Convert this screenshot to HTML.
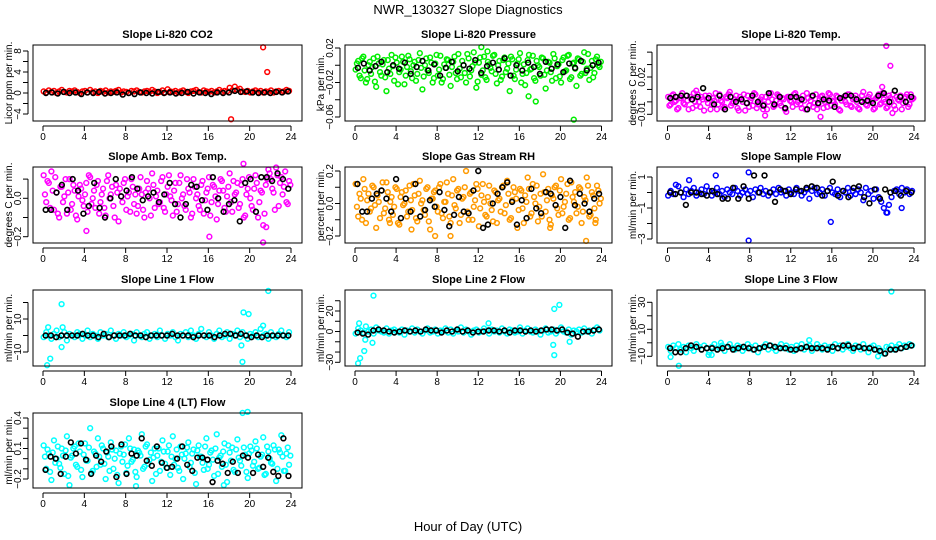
<!DOCTYPE html>
<html><head><meta charset="utf-8"><style>
body{margin:0;background:#fff;}
svg{display:block;font-family:"Liberation Sans",sans-serif;}
</style></head><body>
<svg id="chart" width="936" height="540" viewBox="0 0 936 540" xmlns="http://www.w3.org/2000/svg">
<rect x="0" y="0" width="936" height="540" fill="#fff"/>
<text x="468" y="14" font-size="13" text-anchor="middle">NWR_130327  Slope Diagnostics</text>
<text x="468" y="531" font-size="13" text-anchor="middle">Hour of Day (UTC)</text>
</svg>
<script>
// ---- data (y values; hours spread evenly over 0-24) ----
const co2Col=[0.3,0.1,0.5,0.2,0.4,0,0.3,0.6,0.2,0.1,0.4,0.3,0.5,0.2,0,0.3,0.4,0.1,0.6,0.2,0.3,0,0.4,0.2,0.5,0.1,0.3,0.2,0.4,0.6,0.1,0.3,0.2,0,0.4,0.3,0.5,0.2,0.1,0.3,0.4,0.2,0.6,0.3,0,0.2,0.5,0.1,0.7,0.3,0.2,0.4,0.1,0.3,0.5,0.2,0,0.3,0.4,0.6,0.2,0.1,0.5,0.3,0.2,0.4,0.1,0.3,0.6,0.2,0.4,0.3,1.0,0.5,1.2,0.6,0.8,0.3,0.2,0.4,0.1,0.3,0.5,0.2,0.4,0.1,0.3,0.2,0.5,0.1,0.3,0.4,0.2,0.3,0.6,0.4];
const co2Blk=[0,0.1,-0.1,0.2,0,0.1,-0.2,0.1,0,0.2,-0.1,0,0.1,-0.3,0,-0.2,0.1,0,-0.1,0.2,0,0.1,-0.1,0,0.2,-0.1,0.1,0,-0.2,0.1,0,0.1,0.4,0.2,0.3,0.1,0,0.1,0,0.2,0.1,0.3];
const co2OutH=[21.3,21.7,18.2];
const co2OutV=[8.7,4.0,-5.0];
const preCol=[-0.005,0.005,-0.015,0.01,-0.02,0,-0.01,0.008,-0.025,0.002,-0.012,0.006,-0.03,-0.004,0.012,-0.018,0.003,-0.008,0.01,-0.022,-0.002,0.007,-0.015,0.004,-0.01,0.014,-0.028,0,-0.006,0.009,-0.02,0.002,-0.012,0.011,-0.016,-0.003,0.006,-0.024,0.004,-0.009,0.013,-0.014,0,-0.02,0.008,-0.006,0.015,-0.026,0.003,-0.011,0.01,-0.017,0.001,-0.007,0.012,-0.021,0.005,-0.013,0.009,-0.004,-0.03,0.007,-0.016,0.002,0.014,-0.01,-0.023,0.006,-0.005,0.011,-0.018,0,-0.012,0.008,-0.027,0.004,-0.008,0.013,-0.015,0.001,-0.02,0.009,-0.006,0.012,-0.014,0.003,-0.024,0.007,-0.01,0.015,-0.004,-0.017,0.005,-0.009,0.01,-0.002];
const preCol2=[0.002,-0.012,0.008,-0.006,-0.016,0.004,-0.002,-0.019,0.01,-0.008,0.001,-0.014,0.006,-0.01,-0.001,0.009,-0.022,-0.005,0.004,-0.012,0.011,-0.007,0,-0.018,0.006,-0.003,-0.013,0.008,-0.009,0.003,-0.015,0.012,-0.005,-0.02,0.001,0.007,-0.011,-0.002,0.01,-0.016,-0.004,0.005,-0.009,0.013,-0.013,-0.001,0.003,-0.019,0.009,-0.006,-0.014,0.004,-0.003,0.011,-0.01,0,-0.017,0.006,-0.008,0.002,0.01,-0.012,-0.005,0.007,-0.02,0.001,-0.009,0.012,-0.004,-0.015,0.005,-0.002,0.009,-0.011,-0.006,0.003,-0.018,0.008,-0.001,-0.013,0.006,-0.007,0.011,-0.016,0.002,-0.004,0.008,-0.012,0.004,-0.009,0.013,-0.003,-0.014,0.007,0,0.004];
const preBlk=[-0.003,0.002,-0.006,-0.001,0.004,-0.008,0,-0.004,0.003,-0.01,-0.002,0.005,-0.006,0.001,-0.012,-0.003,0.004,-0.007,0,-0.004,0.006,-0.009,-0.001,0.003,-0.005,0.008,-0.012,0,-0.006,0.003,-0.002,-0.01,0.004,-0.004,0.001,-0.008,0.002,-0.003,0.005,-0.006,0,0.003];
const preOutH=[12.3,21.3,17.6,16.9,12.9];
const preOutV=[0.021,-0.063,-0.042,-0.036,0.016];
const tmpCol=[0.004,-0.002,0.006,0.001,-0.005,0.003,-0.001,0.005,-0.006,0.002,0.007,-0.003,0,0.004,-0.007,0.002,0.005,-0.002,0.001,-0.006,0.006,0,-0.004,0.003,0.008,-0.001,0.002,-0.005,0.004,0,-0.007,0.005,0.001,-0.003,0.006,-0.002,0.002,-0.006,0.004,0,0.007,-0.004,0.001,0.005,-0.003,0.002,-0.008,0.004,0,0.006,-0.002,0.003,-0.005,0.001,0.007,-0.003,0.004,-0.001,-0.006,0.002,0.005,0,-0.004,0.006,0.001,-0.002,0.004,-0.007,0.003,0,0.006,-0.003,0.002,0.005,-0.005,0.001,0.008,-0.002,0.004,0,-0.006,0.003,0.006,-0.001,0.002,-0.005,0.005,0,-0.003,0.004,0.001,-0.006,0.003,0.006,-0.002,0.002];
const tmpCol2=[-0.003,0.005,0,-0.006,0.003,0.007,-0.002,0.001,0.004,-0.005,0,0.006,-0.004,0.002,0.005,-0.001,-0.006,0.003,0.007,-0.002,0.001,-0.005,0.004,0.006,-0.003,0,0.005,-0.007,0.002,0.006,-0.001,-0.004,0.003,0.007,-0.005,0.001,0.004,-0.002,-0.006,0.005,0.002,-0.003,0.006,-0.001,0.003,-0.006,0.004,0.001,-0.004,0.007,0,-0.002,0.005,-0.006,0.003,0.001,-0.004,0.006,-0.002,0.004,-0.005,0.002,0.007,-0.003,0,0.005,-0.006,0.001,0.004,-0.002,0.006,-0.004,0.003,0,-0.006,0.005,0.002,-0.003,0.006,0.001,-0.005,0.004,-0.002,0.007,0,-0.004,0.003,0.006,-0.006,0.002,0.005,-0.001,0.004,-0.004,0.006,0.003];
const tmpBlk=[0.003,0.004,0.005,0.005,0.002,0.004,0.011,0.003,-0.002,0.005,-0.006,0.004,0,0.002,-0.001,0.005,0,-0.003,0.007,-0.002,0.004,-0.005,0.004,0.004,0.002,-0.006,0.005,-0.001,0.002,0.001,-0.004,0.003,0.005,0.005,0.002,0,0.001,-0.001,0.005,0.007,0,0.009,0.004,0,0.004];
const tmpOutH=[21.3,21.7,20.9,21.9,14.9,9.5,2.8,20.8];
const tmpOutV=[0.045,0.029,0.012,-0.009,-0.012,-0.011,0.009,0.006];
const ambCol=[0.12,-0.02,0.08,0.14,-0.06,0.03,-0.1,0.06,0.01,-0.08,0.1,-0.03,0.04,-0.11,0.07,-0.01,0.02,-0.07,0.11,0,-0.05,0.09,-0.02,0.05,-0.09,0.12,0.02,-0.04,0.07,-0.12,0.01,0.08,-0.06,0.03,0.1,-0.03,-0.08,0.05,0.02,-0.1,0.09,0,0.13,-0.05,0.04,-0.02,0.11,-0.07,0.06,0.01,-0.09,0.08,-0.03,0.12,0.02,-0.06,0.05,-0.1,0.1,0,-0.04,0.07,-0.08,0.03,0.11,-0.02,0.06,-0.11,0.04,0.09,-0.05,0.01,0.13,-0.07,0.02,0.08,-0.03,0.1,-0.09,0.05,0,-0.06,0.12,-0.1,0.04,-0.14,0.07,0.15,0.1,0.03,0.16,-0.04,0.11,0.06,-0.02,0.09];
const ambCol2=[0.02,0.09,-0.05,0.04,0.11,-0.08,0.06,-0.02,0.1,0.03,-0.06,0.07,-0.09,0.01,0.05,-0.04,0.08,0.12,-0.03,0.04,0.07,-0.08,0.02,-0.05,0.09,0,0.06,-0.1,0.03,0.05,-0.02,0.1,0.01,-0.07,0.06,0.02,-0.04,0.11,-0.06,0.03,0.05,-0.09,0.07,0.01,-0.03,0.09,-0.05,0.02,0.12,-0.01,0.04,-0.07,0.08,0,-0.04,0.1,0.03,-0.08,0.06,0.02,-0.06,0.09,-0.01,0.05,-0.09,0.07,0.01,-0.03,0.1,0.04,-0.07,0.06,-0.02,0.09,0.03,-0.05,0.07,-0.1,0.02,0.11,-0.04,0.05,0.08,-0.02,0.03,-0.08,0.1,0.13,0.05,-0.06,0.12,0.08,0.02,0.14,-0.03,0.07];
const ambBlk=[-0.06,-0.06,0.03,0.07,-0.06,0.1,0.04,-0.08,-0.04,0.08,-0.05,-0.1,0,0.1,0.01,0.04,0.11,0.05,-0.01,0.01,0.03,-0.02,0.02,0.08,-0.03,-0.1,-0.03,0.07,0.06,-0.01,-0.06,0.11,0,-0.07,-0.03,-0.01,-0.12,0.08,0.1,-0.07,0.11,0.11,0.09,0.13,0.1,0.05];
const ambOutH=[21.3,4.2,16.1,21.6,19.4];
const ambOutV=[-0.23,-0.17,-0.2,-0.15,0.18];
const rhCol=[0.12,-0.08,0.03,0.15,-0.12,0.06,-0.03,0.1,-0.15,0.01,0.08,-0.06,0.13,-0.1,0.04,-0.02,0.09,-0.13,0.07,0,-0.08,0.11,-0.04,0.05,-0.11,0.14,0.02,-0.07,0.1,-0.16,0.03,0.08,-0.05,0.12,-0.09,0.01,0.06,-0.12,0.15,-0.03,0.09,-0.07,0.04,0.2,-0.1,0.07,-0.02,0.12,-0.14,0.05,0.01,-0.08,0.11,-0.04,0.08,-0.12,0.03,0.1,-0.06,0.14,-0.1,0.02,0.07,-0.15,0.09,-0.03,0.05,0.16,-0.08,0.12,0,-0.11,0.06,0.18,-0.05,0.09,-0.13,0.03,0.11,-0.07,0.15,-0.02,0.06,-0.1,0.13,0.01,-0.06,0.1,-0.12,0.04,0.16,-0.08,0.07,-0.03,0.11,0];
const rhCol2=[-0.02,0.06,-0.1,0.09,0.02,-0.05,0.11,-0.01,0.05,-0.09,0.13,-0.03,0.07,0.01,-0.07,0.1,-0.12,0.04,-0.01,0.08,-0.05,0.02,0.12,-0.09,0.06,0,-0.04,0.09,-0.11,0.03,0.07,-0.02,0.1,-0.06,0.01,0.13,-0.08,0.05,-0.01,0.08,-0.12,0.03,0.1,-0.05,0.06,-0.1,0.02,0.09,-0.03,0.12,-0.07,0.04,0,-0.11,0.07,0.02,-0.05,0.11,-0.01,0.06,-0.09,0.1,0.03,-0.04,0.08,-0.12,0.01,0.09,-0.06,0.04,0.11,-0.02,-0.08,0.07,0.02,-0.1,0.05,0.1,-0.03,0.08,-0.06,0.01,0.12,-0.09,0.04,0.07,-0.02,0.09,-0.05,0.02,0.11,-0.07,0.05,-0.1,0.08,0.03];
const rhBlk=[0.12,-0.05,-0.05,0.03,0.06,0.08,0.03,-0.05,0.15,-0.09,0.03,-0.05,0.12,-0.08,-0.04,0.02,-0.02,0.07,-0.04,-0.14,-0.07,0.04,-0.05,-0.06,0.08,0.2,-0.15,-0.13,0,0.06,0.1,0.13,0.01,-0.13,0.02,-0.09,0.09,-0.03,-0.06,0.07,0.06,-0.01,0.04,-0.15,0.14,-0.01,0.06,0,-0.05,0.03,0.06];
const rhOutH=[5.5,7.8,19.0,22.5,23.4,3.4,9.3];
const rhOutV=[-0.16,-0.2,-0.15,-0.23,-0.12,-0.12,-0.2];
const sfCol=[-0.2,0.1,-0.1,0.5,0.4,0,-0.3,0.2,-0.1,0.1,0.3,-0.2,0,0.2,-0.1,0.4,0.1,-0.2,0,0.3,-0.1,0.1,-0.3,0.2,0,-0.1,0.3,0.1,-0.2,0,0.2,-0.1,0.1,-0.3,0.2,0,0.3,-0.1,0.1,-0.2,0,0.2,-0.1,0.3,0,0.1,-0.2,0.2,0,-0.1,0.3,0.1,-0.2,0,0.2,-0.4,0.1,0.3,-0.1,0,0.2,-0.2,0.1,0.3,0,-0.1,0.2,-0.3,0.1,0,0.3,-0.2,0.1,-0.1,0.2,0,-0.5,0.3,-0.1,0.1,-0.4,0.2,-0.3,-0.6,-1.0,-1.3,-0.8,-0.3,0.1,0.2,-0.1,0.3,0,0.2,-0.1,0.1];
const sfBlk=[0,-0.1,0,-0.8,0,0,-0.1,-0.2,0.1,-0.1,-0.4,-0.4,0.3,-0.4,0.4,-0.4,1.1,0,1.1,0,-0.6,0.2,0.1,-0.1,0.2,0.1,0.3,0.4,0.3,-0.2,0.1,0.7,-0.2,0.1,-0.3,0.3,0.4,-0.3,-0.7,0.2,-0.4,0.2,0,0.1,-0.2,0.1,0];
const sfOutH=[7.9,7.9,15.9,4.7,2.1,21.4,22.8];
const sfOutV=[-3.1,1.3,-1.9,1.1,0.8,-1.3,-1.0];
const l1Col=[-1,2,0,-2,1,3,-1,0,2,-3,1,0,-1,2,1,-2,0,3,-1,1,0,-2,2,0,1,-1,3,0,-2,1,0,2,-1,0,1,-3,2,0,-1,1,2,-2,0,1,-1,3,0,-2,1,0,2,-1,-3,1,0,2,-1,3,0,-2,1,4,0,-1,2,0,-2,1,3,-1,0,2,-2,1,0,3,-1,2,0,-2,1,0,2,-1,4,0,1,-2,2,0,-1,1,3,0,-1,2];
const l1Blk=[0,0,-1,0,0,0,0,1,0,0,-1,1,-1,0,0,0,1,0,0,-1,0,0,0,0,1,0,0,0,-1,0,0,0,-1,0,1,1,0,1,0,-1,0,-1,0,0,0,0,0];
const l1OutH=[0.4,0.7,1.8,1.8,19.3,19.4,19.9,21.8,19.2,21.3,0.5,1.9];
const l1OutV=[-18,-14,19,-7,-16,14,13,27,-6,6,5,5];
const l2Col=[-2,3,1,-1,5,0,2,-2,4,1,0,-1,3,-2,1,2,0,-1,2,-3,1,0,3,-1,2,0,-2,1,3,-1,0,2,-2,1,0,3,-1,2,-2,1,0,4,-1,2,0,-3,1,2,-1,0,3,1,-2,2,0,1,-1,3,0,-2,2,1,-1,0,4,-2,1,3,0,-1,2,0,-3,1,3,-1,0,2,-2,1,4,0,-1,2,-3,1,0,2,-1,3,0,1,-2,2,4,1];
const l2Blk=[-1,-2,-3,1,2,1,0,-1,0,1,0,1,0,2,1,1,-1,1,0,2,0,1,-1,0,0,1,1,0,1,-1,1,1,0,1,0,1,2,2,1,2,-1,-2,-5,0,0,1,2];
const l2OutH=[0.3,0.5,0.9,1.0,1.8,1.7,19.4,19.9,19.3,19.4,20.9,0.4,13.0];
const l2OutV=[-31,-26,-19,-8,35,-11,22,26,-13,-23,-10,8,8];
const l3Col=[-3,-6,-2,-4,-1,-5,-3,-7,-2,-4,-6,-1,-3,-5,-2,-4,-7,-3,-1,-5,-4,-2,-6,-3,-1,-4,-5,-2,-3,-6,-4,-1,-3,-5,-2,-7,-4,-3,-1,-5,-2,-4,-6,-3,-1,-4,-2,-5,-3,-6,-2,-4,-1,-5,-3,-2,-6,-4,-1,-3,-5,-2,-4,-3,-6,-1,-4,-2,-5,-3,-1,-4,-6,-2,-3,-5,-1,-4,-7,-3,-2,-5,-4,-6,-8,-3,-4,-2,-5,-3,-1,-4,-2,-3,-1,-2];
const l3Blk=[-4,-7,-7,-4,-2,-3,-5,-4,-4,-5,-4,-3,-5,-4,-3,-4,-5,-4,-3,-2,-3,-4,-4,-5,-5,-4,-3,-4,-4,-4,-5,-3,-4,-2,-2,-4,-3,-4,-4,-5,-6,-8,-5,-5,-4,-3,-2];
const l3OutH=[0.3,1.1,13.8,21.8,20.5,4.0,4.3,5.2];
const l3OutV=[-10.5,-17,2,38,-10,-9,-9,0];
const l4Col=[0.13,-0.1,0.05,-0.21,0.18,0,-0.05,0.1,-0.15,0.22,-0.26,0.03,0.12,-0.08,0.07,-0.18,0.15,-0.02,0.3,-0.12,0.05,0.2,-0.06,0.1,-0.2,0.02,0.16,-0.1,0.08,-0.24,0.12,0.04,-0.14,0.2,-0.03,0.09,-0.18,0.06,0.24,-0.08,0.14,-0.01,-0.22,0.1,0.03,-0.12,0.18,-0.05,0.07,-0.16,0.22,0,-0.09,0.12,-0.2,0.05,0.16,-0.04,0.09,-0.25,0.13,0.02,-0.11,0.2,-0.06,0.08,-0.17,0.24,0.01,-0.08,0.15,-0.23,0.06,0.11,-0.13,0.19,-0.02,0.45,0.04,-0.19,0.12,-0.07,0.17,-0.1,0.02,0.21,-0.15,0.07,-0.04,0.13,-0.22,0.09,0.23,-0.12,0.05,-0.06];
const l4Col2=[0.02,0.09,-0.13,0.06,-0.04,0.12,-0.09,0.03,0.08,-0.17,0.01,0.1,-0.06,0.15,-0.11,0.04,-0.02,0.11,-0.14,0.07,-0.08,0.02,0.13,-0.05,0.06,-0.12,0.09,0,-0.16,0.05,-0.03,0.14,-0.07,0.1,-0.01,-0.13,0.08,0.03,-0.1,0.12,-0.05,0.06,0.01,-0.15,0.1,-0.03,0.07,-0.09,0.13,0.02,-0.06,0.09,-0.12,0.04,0,0.11,-0.08,0.05,-0.14,0.08,0.02,-0.04,0.12,-0.1,0.06,-0.01,0.1,-0.15,0.03,0.07,-0.06,0.13,-0.02,-0.11,0.09,0.01,-0.07,0.11,-0.13,0.05,0.08,-0.03,0.1,-0.09,0.04,-0.16,0.12,0,-0.05,0.09,-0.1,0.06,0.02,-0.12,0.11,0.03];
const l4Blk=[-0.11,0.02,0,-0.15,0.02,0.16,0.05,0.15,-0.01,-0.15,0.03,-0.03,0.07,0.12,-0.18,0.14,-0.15,0.05,0.03,0.2,-0.02,-0.07,0.12,-0.04,-0.09,-0.08,0,0.12,-0.06,-0.12,0.01,0.01,-0.01,-0.23,-0.02,-0.05,-0.14,-0.03,-0.14,0.03,0.01,-0.14,0.04,-0.08,0.01,-0.13,-0.17,0.2,-0.17];
const l4OutH=[19.8,9.0,17.5];
const l4OutV=[0.46,-0.27,-0.26];
</script>
<script>
const svg=document.getElementById('chart');
const NS='http://www.w3.org/2000/svg';
const cols=[{l:33,r:302,x0:43,x24:291},{l:345,r:612,x0:355,x24:601.5},{l:657,r:925,x0:667.5,x24:914}];
const rows=[{t:45,b:121},{t:167,b:243},{t:290,b:366},{t:413,b:488}];
const panels=[
 {id:'co2',title:'Slope Li-820 CO2',yl:'Licor ppm per min.',c:0,r:0,v1:0,p1:93,v2:8,p2:51,ticks:[-4,-2,0,2,4,6,8],labs:['-4','','0','','4','','8'],col:'#ff0000',d:[co2Col],b:co2Blk,oh:co2OutH,ov:co2OutV},
 {id:'pressure',title:'Slope Li-820 Pressure',yl:'kPa per min.',c:1,r:0,v1:0.02,p1:48,v2:-0.06,p2:117,ticks:[-0.06,-0.04,-0.02,0,0.02],labs:['-0.06','','-0.02','','0.02'],col:'#00ee00',d:[preCol,preCol2],b:preBlk,oh:preOutH,ov:preOutV},
 {id:'temp',title:'Slope Li-820 Temp.',yl:'degrees C per min.',c:2,r:0,v1:-0.01,p1:114.3,v2:0.02,p2:77,ticks:[-0.01,0,0.01,0.02,0.03,0.04],labs:['-0.01','','','0.02','',''],col:'#ff00ff',d:[tmpCol,tmpCol2],b:tmpBlk,oh:tmpOutH,ov:tmpOutV},
 {id:'amb-temp',title:'Slope Amb. Box Temp.',yl:'degrees C per min.',c:0,r:1,v1:0,p1:198.3,v2:-0.2,p2:236.7,ticks:[-0.2,-0.1,0,0.1],labs:['-0.2','','0.0',''],col:'#ff00ff',d:[ambCol,ambCol2],b:ambBlk,oh:ambOutH,ov:ambOutV},
 {id:'rh',title:'Slope Gas Stream RH',yl:'percent per min.',c:1,r:1,v1:0.2,p1:171,v2:-0.2,p2:236,ticks:[-0.2,-0.1,0,0.1,0.2],labs:['-0.2','','0.0','','0.2'],col:'#ff9a00',d:[rhCol,rhCol2],b:rhBlk,oh:rhOutH,ov:rhOutV},
 {id:'sample-flow',title:'Slope Sample Flow',yl:'ml/min per min.',c:2,r:1,v1:1,p1:177,v2:-3,p2:239,ticks:[-3,-2,-1,0,1],labs:['-3','','-1','','1'],col:'#0000ff',d:[sfCol],b:sfBlk,oh:sfOutH,ov:sfOutV},
 {id:'line1',title:'Slope Line 1 Flow',yl:'ml/min per min.',c:0,r:2,v1:10,p1:319,v2:-10,p2:352,ticks:[-10,0,10,20],labs:['-10','','10',''],col:'#00ffff',d:[l1Col],b:l1Blk,oh:l1OutH,ov:l1OutV},
 {id:'line2',title:'Slope Line 2 Flow',yl:'ml/min per min.',c:1,r:2,v1:20,p1:311,v2:-30,p2:362.3,ticks:[-30,-20,-10,0,10,20,30],labs:['-30','','','0','','20',''],col:'#00ffff',d:[l2Col],b:l2Blk,oh:l2OutH,ov:l2OutV},
 {id:'line3',title:'Slope Line 3 Flow',yl:'ml/min per min.',c:2,r:2,v1:30,p1:302.3,v2:-10,p2:356.3,ticks:[-10,0,10,20,30],labs:['-10','','10','','30'],col:'#00ffff',d:[l3Col],b:l3Blk,oh:l3OutH,ov:l3OutV},
 {id:'line4',title:'Slope Line 4 (LT) Flow',yl:'ml/min per min.',c:0,r:3,v1:0.4,p1:418,v2:-0.2,p2:479,ticks:[-0.2,-0.1,0,0.1,0.2,0.3,0.4],labs:['-0.2','','','0.1','','','0.4'],col:'#00ffff',d:[l4Col,l4Col2],b:l4Blk,oh:l4OutH,ov:l4OutV}
];
const xt=[0,4,8,12,16,20,24];
panels.forEach(p=>{
 const C=cols[p.c],R=rows[p.r];
 const xs=h=>C.x0+(C.x24-C.x0)*h/24;
 const ys=v=>p.p1+(v-p.v1)*(p.p2-p.p1)/(p.v2-p.v1);
 const g=document.createElementNS(NS,'g');svg.appendChild(g);
 
 
 const add=(tag,a)=>{const e=document.createElementNS(NS,tag);for(const k in a)e.setAttribute(k,a[k]);g.appendChild(e);return e;};
 const t=add('text',{x:(C.l+C.r)/2,y:R.t-7,'font-size':11,'font-weight':'bold','text-anchor':'middle'});t.textContent=p.title;
 
 
 const yl=add('text',{x:0,y:0,'font-size':10,'text-anchor':'middle',transform:`translate(${C.l-21},${(R.t+R.b)/2}) rotate(-90)`});yl.textContent=p.yl;
 
 
 p.d.forEach((arr,k)=>{const n=arr.length;const off=k*12/n;
  arr.forEach((v,i)=>{const c=add('circle',{cx:xs((i+0.5)*24/n+off-6/n),cy:ys(v),r:2.4,fill:'none',stroke:p.col,'stroke-width':1.5});
   
   });});
 p.oh.forEach((h,i)=>{const c=add('circle',{cx:xs(h),cy:ys(p.ov[i]),r:2.4,fill:'none',stroke:p.col,'stroke-width':1.5});
  
  });
 const m=p.b.length;
 p.b.forEach((v,i)=>{const c=add('circle',{cx:xs((i+0.5)*24/m),cy:ys(v),r:2.4,fill:'none',stroke:'#000','stroke-width':1.6});
  
  });
 const bx=add('rect',{x:C.l,y:R.t,width:C.r-C.l,height:R.b-R.t,fill:'none',stroke:'#000','stroke-width':1});
 
 
 add('line',{x1:xs(0),x2:xs(24),y1:R.b+5,y2:R.b+5,stroke:'#000'});
 xt.forEach(h=>{add('line',{x1:xs(h),x2:xs(h),y1:R.b+5,y2:R.b+10,stroke:'#000'});
  const l=add('text',{x:xs(h),y:R.b+19,'font-size':10,'text-anchor':'middle'});l.textContent=h;
  
  });
 const ty=p.ticks.map(ys).filter(y=>y>=R.t-1&&y<=R.b+1);
 add('line',{x1:C.l-5,x2:C.l-5,y1:Math.min(...ty),y2:Math.max(...ty),stroke:'#000'});
 p.ticks.forEach((v,i)=>{const y=ys(v);if(y<R.t-1||y>R.b+1)return;
  add('line',{x1:C.l-10,x2:C.l-5,y1:y,y2:y,stroke:'#000'});
  const s=p.labs[i]||'';
  if(s){const l=add('text',{x:0,y:0,'font-size':10,'text-anchor':'middle',transform:`translate(${C.l-12},${y}) rotate(-90)`});l.textContent=s.replace('-','\u2212');
   
   }
 });
});
</script>
</body></html>
